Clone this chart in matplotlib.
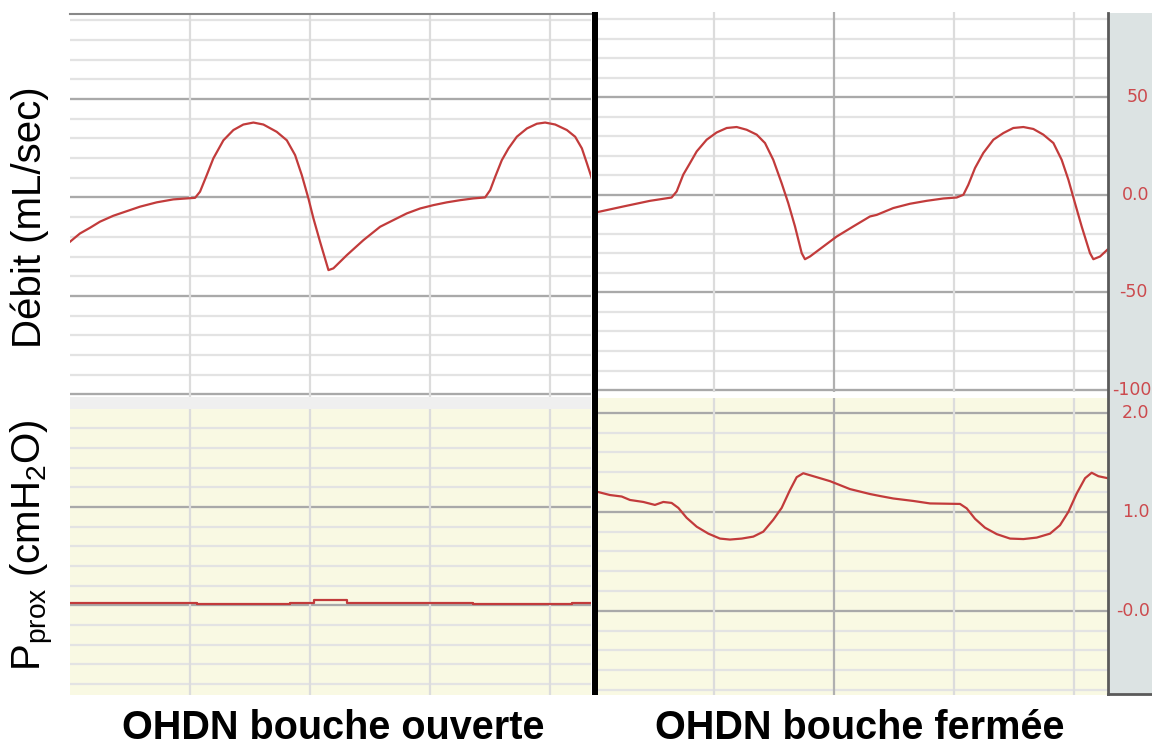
import numpy as np
import matplotlib
matplotlib.use("Agg")
import matplotlib.pyplot as plt
from matplotlib.patches import Rectangle

plt.rcParams['font.family'] = ['Liberation Sans', 'DejaVu Sans']
plt.rcParams['mathtext.fontset'] = 'custom'
plt.rcParams['mathtext.rm'] = 'Liberation Sans'
plt.rcParams['mathtext.it'] = 'Liberation Sans'

# time in grid units (one vertical grid line per unit)
t_flow_open = [0.0, 0.083, 0.167, 0.25, 0.361, 0.472, 0.583, 0.722, 0.861, 1.042,
               1.083, 1.139, 1.194, 1.278, 1.361, 1.444, 1.528, 1.611, 1.722, 1.806,
               1.875, 1.931, 1.986, 2.028, 2.083, 2.153, 2.194, 2.306, 2.444, 2.583,
               2.694, 2.806, 2.917, 3.028, 3.139, 3.25, 3.361, 3.458, 3.5, 3.542,
               3.597, 3.653, 3.722, 3.806, 3.889, 3.958, 4.042, 4.139, 4.208, 4.264,
               4.306, 4.347]
flow_open = [-22.5, -18.3, -15.4, -12.3, -9.3, -7.0, -4.7, -2.5, -1.0, -0.2,
             2.9, 11.3, 19.8, 29.0, 34.2, 37.0, 38.0, 37.0, 33.3, 29.0,
             21.5, 11.3, -0.5, -10.7, -22.5, -36.9, -36.0, -29.3, -21.7, -14.9,
             -11.5, -8.1, -5.6, -3.9, -2.5, -1.4, -0.5, 0.0, 3.7, 10.5,
             18.9, 24.9, 30.8, 35.0, 37.4, 38.0, 37.0, 34.2, 30.8, 24.9,
             17.3, 9.6]

t_flow_closed = [0.02, 0.244, 0.467, 0.647, 0.689, 0.744, 0.8, 0.856, 0.939, 1.022,
                 1.106, 1.189, 1.272, 1.356, 1.425, 1.494, 1.564, 1.619, 1.675, 1.731,
                 1.758, 1.8, 1.911, 2.022, 2.161, 2.3, 2.356, 2.494, 2.633, 2.772,
                 2.911, 3.022, 3.078, 3.119, 3.175, 3.244, 3.328, 3.411, 3.494, 3.578,
                 3.661, 3.744, 3.828, 3.897, 3.953, 4.008, 4.064, 4.133, 4.161, 4.217,
                 4.28]
flow_closed = [-9.0, -6.0, -3.1, -1.4, 1.7, 10.3, 16.2, 22.2, 28.2, 31.9,
               34.2, 34.7, 33.3, 30.8, 26.5, 17.9, 5.9, -4.3, -16.2, -29.9,
               -33.0, -31.6, -26.5, -21.4, -16.2, -11.1, -10.3, -6.8, -4.6, -3.1,
               -1.9, -1.4, 0.0, 5.1, 13.7, 21.4, 28.2, 31.6, 34.2, 34.7,
               33.7, 30.8, 26.5, 17.9, 7.7, -4.3, -16.3, -29.9, -33.0, -31.6,
               -28.0]

t_p_open = [0.0, 1.06, 1.83, 2.03, 2.31, 3.36, 4.18, 4.34]
p_open = [0.028, 0.012, 0.028, 0.056, 0.028, 0.012, 0.028, 0.028]

t_p_closed = [0.02, 0.133, 0.231, 0.3, 0.411, 0.508, 0.578, 0.647, 0.703, 0.772,
              0.856, 0.953, 1.05, 1.133, 1.231, 1.328, 1.411, 1.494, 1.564, 1.633,
              1.689, 1.744, 1.856, 1.967, 2.133, 2.3, 2.383, 2.494, 2.661, 2.8,
              3.05, 3.106, 3.175, 3.258, 3.356, 3.467, 3.578, 3.689, 3.8, 3.883,
              3.953, 4.022, 4.092, 4.147, 4.203, 4.28]
p_closed = [1.205, 1.17, 1.155, 1.12, 1.10, 1.07, 1.10, 1.09, 1.04, 0.94,
            0.85, 0.78, 0.73, 0.72, 0.73, 0.75, 0.80, 0.92, 1.04, 1.22,
            1.35, 1.39, 1.35, 1.31, 1.23, 1.18, 1.16, 1.135, 1.11, 1.085,
            1.08, 1.035, 0.93, 0.84, 0.775, 0.73, 0.725, 0.74, 0.78, 0.865,
            1.0, 1.185, 1.34, 1.395, 1.36, 1.34]

flow_ticks = ["50", "0.0", "-50", "-100"]
flow_tick_vals = [50, 0, -50, -100]
p_ticks = ["2.0", "1.0", "-0.0"]
p_tick_vals = [2, 1, 0]

titles = ["OHDN bouche ouverte", "OHDN bouche fermée"]

W, H = 1152, 749
fig = plt.figure(figsize=(W / 100, H / 100), dpi=100)


def px_axes(x0, y0, x1, y1, **kw):
    return fig.add_axes([x0 / W, 1 - y1 / H, (x1 - x0) / W, (y1 - y0) / H], **kw)


RED = '#c23b3b'
MINOR = '#e3e3e3'
MAJOR = '#a9a9a9'
VGRID = '#dcdcdc'
YELLOW = '#f9f9e3'


def dress(ax, xlim, ylim, minor_step, majors, dark_x=None, bg='white'):
    ax.set_facecolor(bg)
    ax.set_xlim(*xlim)
    ax.set_ylim(*ylim)
    for v in np.arange(-200, 200, 1) * minor_step:
        if ylim[0] <= v <= ylim[1]:
            ax.axhline(v, color=MINOR, lw=1.6, zorder=0)
    for v in majors:
        ax.axhline(v, color=MAJOR, lw=1.6, zorder=1)
    for v in [1, 2, 3, 4]:
        c = '#b0b0b0' if v == dark_x else VGRID
        ax.axvline(v, color=c, lw=1.6, zorder=1)
    ax.set_xticks([])
    ax.set_yticks([])
    for s in ax.spines.values():
        s.set_visible(False)


# left (mouth open)
ax1 = px_axes(70, 14, 591, 397)
dress(ax1, (0, 4.34), (-101.3, 93.1), 10, [-100, -50, 0, 50])
ax1.spines['top'].set_visible(True)
ax1.spines['top'].set_color('#888888')
ax1.spines['top'].set_linewidth(1.5)
ax1.plot(t_flow_open, flow_open, color=RED, lw=1.6, zorder=3)

ax2 = px_axes(70, 409, 591, 695)
dress(ax2, (0, 4.34), (-0.91, 1.995), 0.2, [0, 1], bg=YELLOW)
ax2.plot(t_p_open, p_open, color=RED, lw=1.6, drawstyle='steps-post', zorder=3)

fig.patches.append(Rectangle((70 / W, 1 - 409 / H), 521 / W, 12 / H,
                             transform=fig.transFigure, fc='#efefef', ec='none'))

# right (mouth closed)
ax3 = px_axes(596, 12, 1108, 392)
dress(ax3, (0.017, 4.283), (-101, 93.6), 10, [-100, -50, 0, 50], dark_x=2)
ax3.plot(t_flow_closed, flow_closed, color=RED, lw=1.6, zorder=3)

ax4 = px_axes(596, 398, 1108, 695)
dress(ax4, (0.017, 4.283), (-0.85, 2.15), 0.2, [0, 1, 2], dark_x=2, bg=YELLOW)
ax4.plot(t_p_closed, p_closed, color=RED, lw=1.6, zorder=3)

# black divider
fig.patches.append(Rectangle((592 / W, 1 - 695 / H), 6 / W, 683 / H,
                             transform=fig.transFigure, fc='black', ec='none', zorder=5))

# grey scale strip on the right
axs = px_axes(1108, 13, 1160, 694)
axs.set_facecolor('#dce3e3')
axs.set_xlim(0, 1)
axs.set_ylim(0, 1)
axs.set_xticks([])
axs.set_yticks([])
for k in ['top', 'right']:
    axs.spines[k].set_visible(False)
for k in ['left', 'bottom']:
    axs.spines[k].set_color('#5a5a5a')
    axs.spines[k].set_linewidth(2)

tick_x = {"50": 1127, "0.0": 1122, "-50": 1119, "-100": 1112,
          "2.0": 1122, "1.0": 1122, "-0.0": 1116}
for lab, v in zip(flow_ticks, flow_tick_vals):
    y = ax3.transData.transform((1, v))[1]
    fig.text(tick_x[lab] / W, y / H, lab, color='#cc4a4e', fontsize=12.5,
             family='DejaVu Sans', ha='left', va='center')
for lab, v in zip(p_ticks, p_tick_vals):
    y = ax4.transData.transform((1, v))[1]
    fig.text(tick_x[lab] / W, y / H, lab, color='#cc4a4e', fontsize=12.5,
             family='DejaVu Sans', ha='left', va='center')

# axis labels and titles
fig.text(30 / W, 1 - 217 / H, 'Débit (mL/sec)', rotation=90, fontsize=29,
         ha='center', va='center')
fig.text(33 / W, 1 - 545 / H, r'P$_{\mathregular{prox}}$ (cmH$_{\mathregular{2}}$O)',
         rotation=90, fontsize=29, ha='center', va='center')
fig.text(333 / W, 1 - 739 / H, titles[0], fontsize=28.5, fontweight='bold',
         ha='center', va='baseline')
fig.text(860 / W, 1 - 739 / H, titles[1], fontsize=28.5, fontweight='bold',
         ha='center', va='baseline')

fig.savefig('out.png', dpi=100)
